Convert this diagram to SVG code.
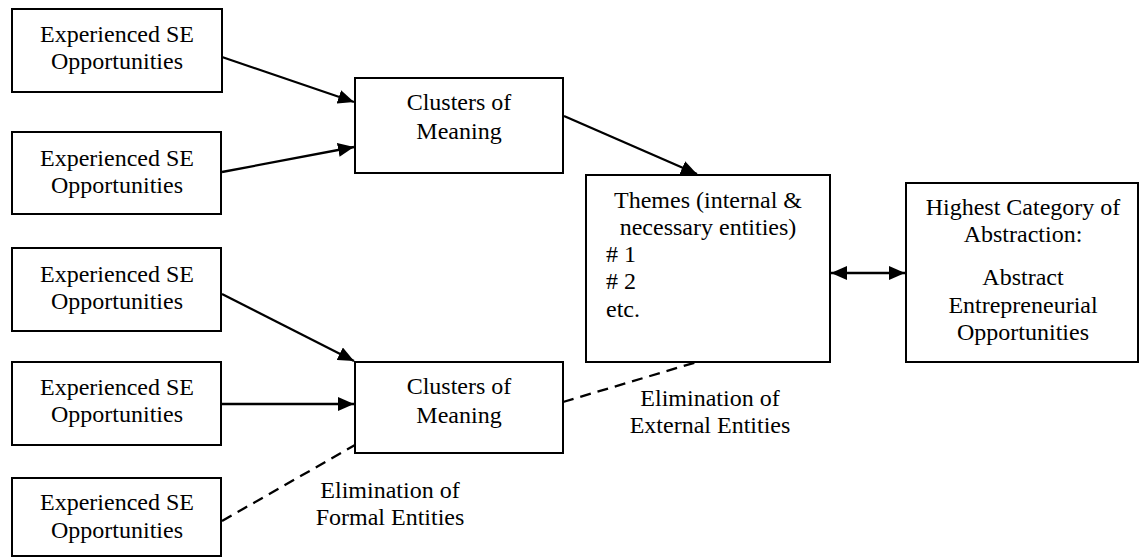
<svg xmlns="http://www.w3.org/2000/svg" width="1140" height="560" viewBox="0 0 1140 560">
<style>
.box{fill:#fff;stroke:#000;stroke-width:2}
text{font-family:"Liberation Serif","Times New Roman",serif;font-size:24px;fill:#000}
.c{text-anchor:middle}
.ln{stroke:#000;stroke-width:2.3;fill:none}
.dash{stroke:#000;stroke-width:2.3;fill:none;stroke-dasharray:11 7}
</style>
<defs>
<marker id="ah" viewBox="0 0 16 14" refX="16" refY="7" markerWidth="16" markerHeight="14" markerUnits="userSpaceOnUse" orient="auto-start-reverse">
<path d="M0,0 L16,7 L0,14 Z" fill="#000"/>
</marker>
</defs>
<rect width="1140" height="560" fill="#fff"/>
<g id="connectors">
<line class="ln" x1="222" y1="57" x2="354" y2="102" marker-end="url(#ah)"/>
<line class="ln" x1="222" y1="172" x2="354" y2="147" marker-end="url(#ah)"/>
<line class="ln" x1="564" y1="116" x2="697" y2="174" marker-end="url(#ah)"/>
<line class="ln" x1="222" y1="294" x2="354" y2="361" marker-end="url(#ah)"/>
<line class="ln" x1="222" y1="404" x2="354" y2="404" marker-end="url(#ah)"/>
<line class="ln" x1="831" y1="273" x2="905" y2="273" marker-start="url(#ah)" marker-end="url(#ah)"/>
<line class="dash" x1="222" y1="521" x2="355" y2="445"/>
<line class="dash" x1="563" y1="402" x2="697" y2="362"/>
</g>
<g id="se1"><rect class="box" x="12" y="9" width="210" height="83"/><text class="c" x="117" y="42">Experienced SE</text><text class="c" x="117" y="69">Opportunities</text></g>
<g id="se2"><rect class="box" x="12" y="132" width="209" height="82"/><text class="c" x="117" y="166">Experienced SE</text><text class="c" x="117" y="193">Opportunities</text></g>
<g id="se3"><rect class="box" x="12" y="248" width="209" height="83"/><text class="c" x="117" y="282">Experienced SE</text><text class="c" x="117" y="309">Opportunities</text></g>
<g id="se4"><rect class="box" x="12" y="362" width="209" height="83"/><text class="c" x="117" y="395">Experienced SE</text><text class="c" x="117" y="422">Opportunities</text></g>
<g id="se5"><rect class="box" x="12" y="478" width="209" height="78"/><text class="c" x="117" y="510">Experienced SE</text><text class="c" x="117" y="538">Opportunities</text></g>
<g id="clusters1"><rect class="box" x="355" y="78" width="208" height="95"/><text class="c" x="459" y="110">Clusters of</text><text class="c" x="459" y="139">Meaning</text></g>
<g id="clusters2"><rect class="box" x="355" y="362" width="208" height="91"/><text class="c" x="459" y="394">Clusters of</text><text class="c" x="459" y="423">Meaning</text></g>
<g id="themes"><rect class="box" x="586" y="175" width="244" height="187"/><text class="c" x="708" y="208">Themes (internal &amp;</text><text class="c" x="708" y="235">necessary entities)</text><text x="606" y="262"># 1</text><text x="606" y="289"># 2</text><text x="606" y="317">etc.</text></g>
<g id="highest"><rect class="box" x="906" y="183" width="232" height="179"/><text class="c" x="1023" y="215">Highest Category of</text><text class="c" x="1023" y="242">Abstraction:</text><text class="c" x="1023" y="285">Abstract</text><text class="c" x="1023" y="313">Entrepreneurial</text><text class="c" x="1023" y="340">Opportunities</text></g>
<g id="label-formal"><text class="c" x="390" y="498">Elimination of</text><text class="c" x="390" y="525">Formal Entities</text></g>
<g id="label-external"><text class="c" x="710" y="406">Elimination of</text><text class="c" x="710" y="433">External Entities</text></g>
</svg>
